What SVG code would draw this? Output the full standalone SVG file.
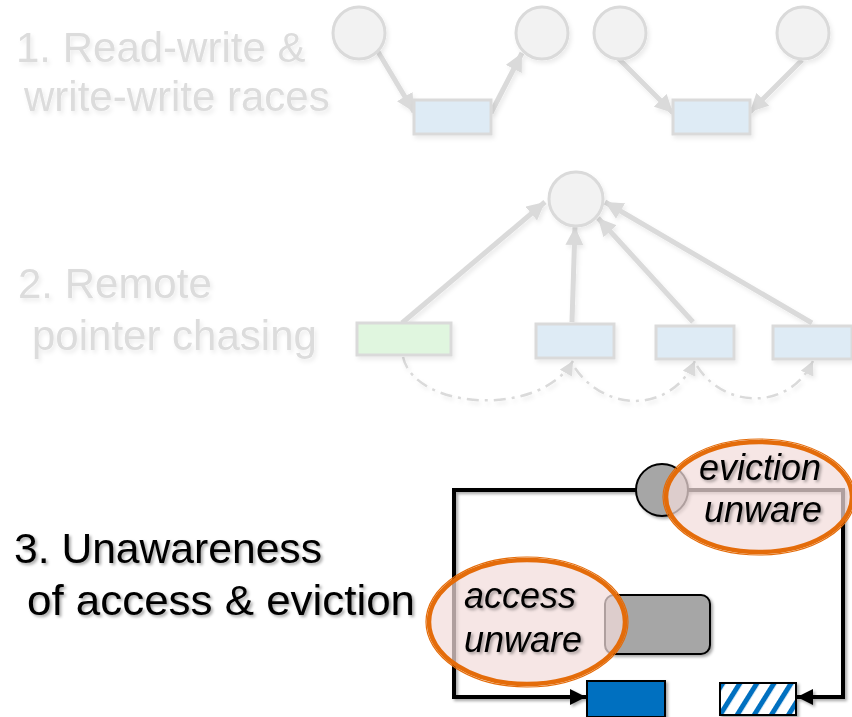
<svg xmlns="http://www.w3.org/2000/svg" width="852" height="717" viewBox="0 0 852 717">
<style>
.fadeT{font-family:"Liberation Sans",Arial,sans-serif;font-size:42px;fill:#dcdcdc}
.blackT{font-family:"Liberation Sans",Arial,sans-serif;font-size:43px;fill:#000}
.itT{font-family:"Liberation Sans",Arial,sans-serif;font-size:36px;font-style:italic;fill:#000}
.fc{fill:#f2f2f2;stroke:#dadada;stroke-width:3}
.fb{fill:#deebf5;stroke:#dadada;stroke-width:3}
.fg{fill:#e0f6df;stroke:#dadada;stroke-width:3}
.fa{fill:none;stroke:#dadada;stroke-width:5}
.fd{fill:none;stroke:#dadada;stroke-width:2.5;stroke-dasharray:12 6 3 6}
.bk{fill:none;stroke:#000;stroke-width:4}
.oe{fill:#f2dcdb;fill-opacity:0.72;stroke:#e46c0a;stroke-width:4.5}
.oe2{fill:none;stroke:#e46c0a;stroke-width:1.2}
</style>
<defs>
<filter id="sh" x="-20%" y="-20%" width="140%" height="140%">
<feDropShadow dx="2" dy="2" stdDeviation="1.5" flood-color="#000" flood-opacity="0.35"/>
</filter>
<filter id="shf" x="-20%" y="-20%" width="140%" height="140%">
<feDropShadow dx="2" dy="3" stdDeviation="2" flood-color="#000" flood-opacity="0.08"/>
</filter>
<marker id="ag" markerUnits="userSpaceOnUse" markerWidth="18" markerHeight="18" refX="16" refY="8" orient="auto" viewBox="0 0 16 16">
<path d="M0,0 L16,8 L0,16 Z" fill="#dadada"/>
</marker>
<marker id="agd" markerUnits="userSpaceOnUse" markerWidth="14" markerHeight="14" refX="13" refY="6.5" orient="auto" viewBox="0 0 13 13">
<path d="M0,0 L13,6.5 L0,13 Z" fill="#dadada"/>
</marker>
<marker id="ab" markerUnits="userSpaceOnUse" markerWidth="17" markerHeight="17" refX="16" refY="8.5" orient="auto" viewBox="0 0 17 17">
<path d="M0,0.5 L16,8.5 L0,16.5 Z" fill="#000"/>
</marker>
<pattern id="stripes" width="14.5" height="14.5" patternUnits="userSpaceOnUse" patternTransform="translate(720,683) rotate(32)">
<rect width="14.5" height="14.5" fill="#fff"/>
<rect width="5" height="14.5" fill="#0070c0"/>
</pattern>
</defs>

<g id="labels">
<g filter="url(#shf)">
<text class="fadeT" x="16" y="62">1. Read-write &amp;</text>
<text class="fadeT" x="24" y="111">write-write races</text>
<text class="fadeT" x="18" y="298">2. Remote</text>
<text class="fadeT" x="32" y="350">pointer chasing</text>
</g>
<g filter="url(#sh)">
<text class="blackT" x="14" y="563" textLength="308" lengthAdjust="spacingAndGlyphs">3. Unawareness</text>
<text class="blackT" x="27" y="615" textLength="388" lengthAdjust="spacingAndGlyphs">of access &amp; eviction</text>
</g>
</g>

<g id="connectors">
<g filter="url(#shf)">
<path class="fa" d="M377,50 L414,112" marker-end="url(#ag)"/>
<path class="fa" d="M491,113 L522,53" marker-end="url(#ag)"/>
<path class="fa" d="M618,58 L673,113" marker-end="url(#ag)"/>
<path class="fa" d="M802,60 L750,112" marker-end="url(#ag)"/>
<path class="fa" d="M402,323 L545,202" marker-end="url(#ag)"/>
<path class="fa" d="M572,322 L575,227" marker-end="url(#ag)"/>
<path class="fa" d="M693,322 L598,218" marker-end="url(#ag)"/>
<path class="fa" d="M812,323 L605,202" marker-end="url(#ag)"/>
<path class="fd" d="M403,357 C415,410 540,418 573,361" marker-end="url(#agd)"/>
<path class="fd" d="M575,368 C605,412 670,414 695,361" marker-end="url(#agd)"/>
<path class="fd" d="M697,366 C725,410 790,410 813,361" marker-end="url(#agd)"/>
</g>
<g filter="url(#sh)">
<path class="bk" d="M637,490 L454,490 L454,697 L586,697" marker-end="url(#ab)"/>
<path class="bk" d="M687,490 L843,490 L843,697 L797,697" marker-end="url(#ab)"/>
</g>
</g>

<g id="top-nodes" filter="url(#shf)">
<g id="c1"><circle class="fc" cx="359" cy="33" r="26"/></g>
<g id="c2"><circle class="fc" cx="542" cy="33" r="26"/></g>
<g id="c3"><circle class="fc" cx="620" cy="33" r="26"/></g>
<g id="c4"><circle class="fc" cx="803" cy="33" r="26"/></g>
<g id="r1"><rect class="fb" x="414" y="100" width="77" height="34"/></g>
<g id="r2"><rect class="fb" x="673" y="100" width="77" height="34"/></g>
</g>

<g id="mid-nodes" filter="url(#shf)">
<g id="c5"><circle class="fc" cx="576" cy="199" r="27"/></g>
<g id="g1"><rect class="fg" x="357" y="323" width="94" height="32"/></g>
<g id="b1"><rect class="fb" x="536" y="324" width="78" height="34"/></g>
<g id="b2"><rect class="fb" x="656" y="326" width="78" height="33"/></g>
<g id="b3"><rect class="fb" x="773" y="326" width="79" height="33"/></g>
</g>

<g id="bottom-nodes" filter="url(#sh)">
<g id="gcircle"><circle cx="662" cy="490" r="26" fill="#a6a6a6" stroke="#000" stroke-width="2"/></g>
<g id="grect"><rect x="605" y="595" width="105" height="59" rx="9" fill="#a6a6a6" stroke="#000" stroke-width="2"/></g>
<g id="blue"><rect x="587" y="681" width="78" height="36" fill="#0070c0" stroke="#000" stroke-width="2"/></g>
<g id="striped"><rect x="720" y="683" width="76" height="32" fill="url(#stripes)" stroke="#000" stroke-width="2"/></g>
</g>

<g id="eviction-unware">
<ellipse class="oe" cx="759" cy="497" rx="93" ry="55"/>
<ellipse class="oe2" cx="759" cy="497" rx="96" ry="58"/>
<g filter="url(#sh)">
<text class="itT" x="699" y="480">eviction</text>
<text class="itT" x="704" y="522">unware</text>
</g>
</g>

<g id="access-unware">
<ellipse class="oe" cx="527" cy="622" rx="98" ry="62"/>
<ellipse class="oe2" cx="527" cy="622" rx="101" ry="65"/>
<g filter="url(#sh)">
<text class="itT" x="464" y="608">access</text>
<text class="itT" x="464" y="652">unware</text>
</g>
</g>
</svg>
